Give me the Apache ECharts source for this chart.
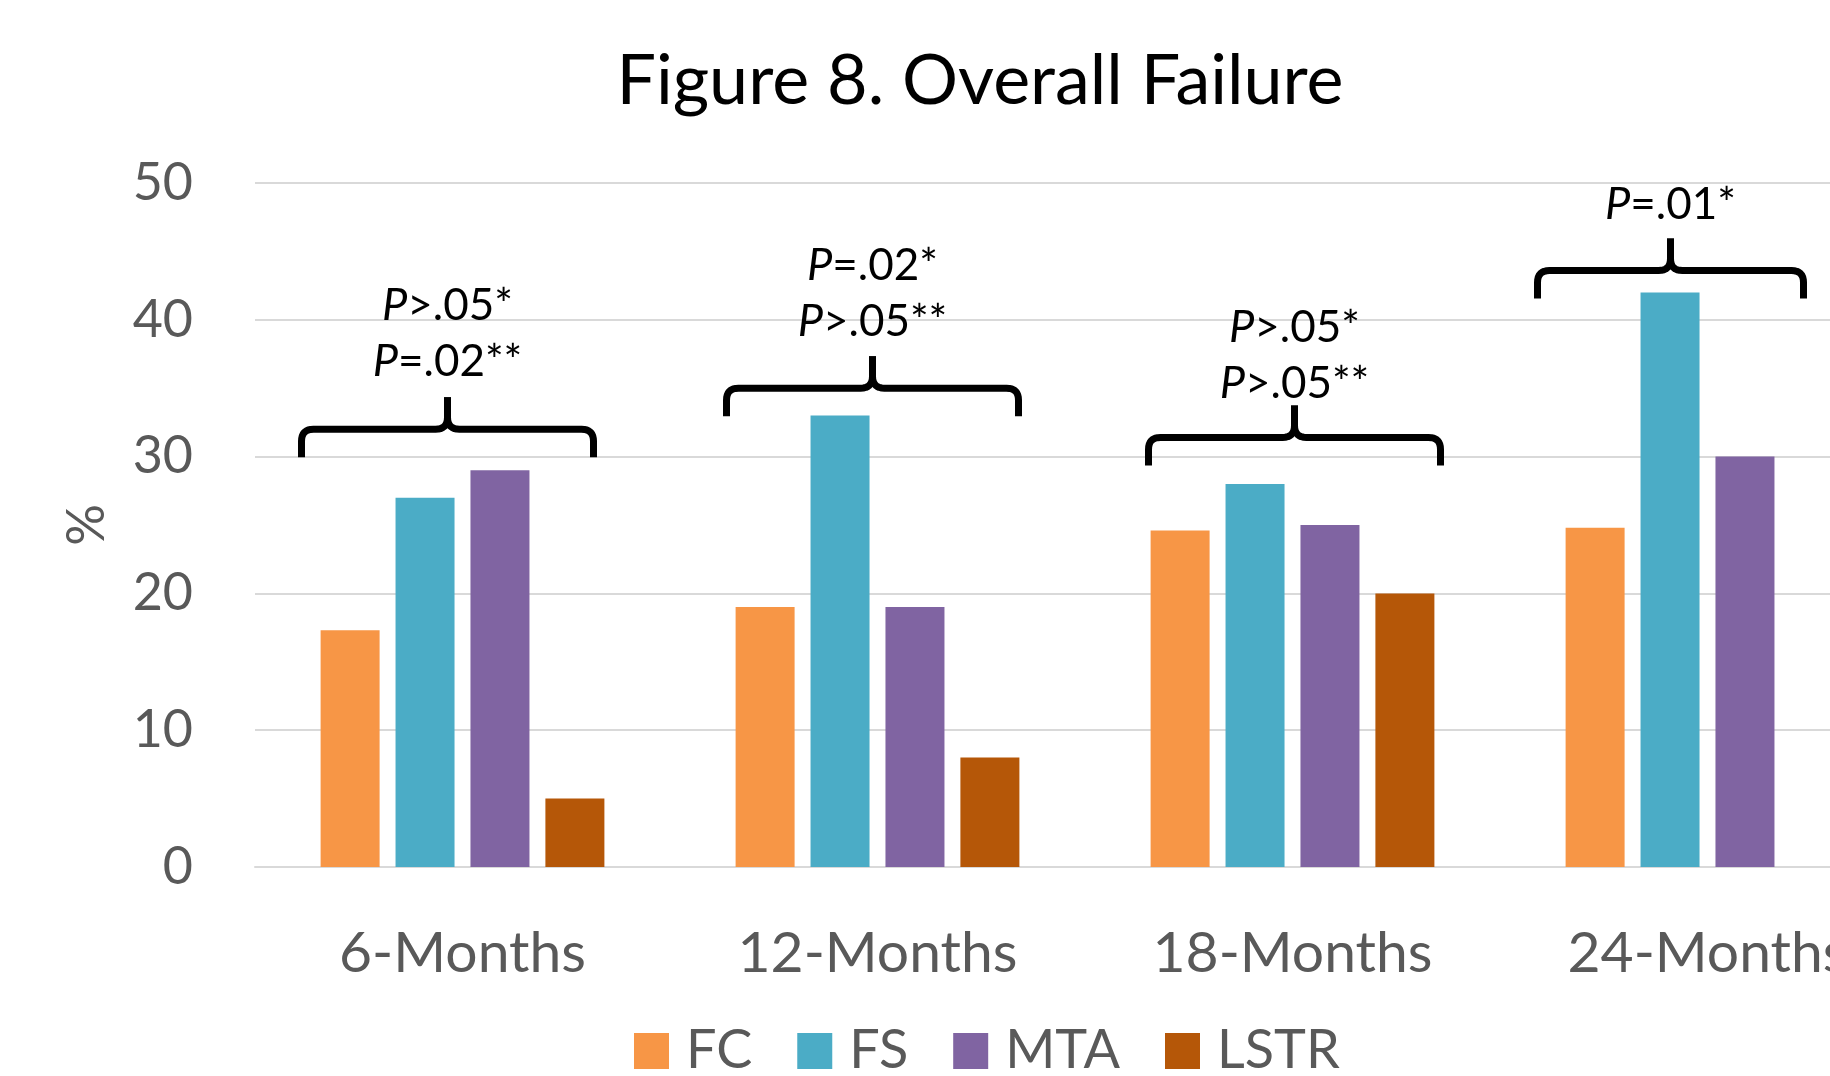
<!DOCTYPE html>
<html>
<head>
<meta charset="utf-8">
<title>Figure 8. Overall Failure</title>
<script src="https://cdn.jsdelivr.net/npm/echarts@6/dist/echarts.min.js"></script>
<style>
  html, body { margin: 0; padding: 0; background: #fff; overflow: hidden; }
  #main { width: 1960px; height: 1076px; }
</style>
</head>
<body>
<div id="main"></div>
<script>
  // 数据
  const categories = ['6-Months', '12-Months', '18-Months', '24-Months']
  const fc = [17.3, 19, 24.6, 24.8]
  const fs = [27, 33, 28, 42]
  const mta = [29, 19, 25, 30]
  const lstr = [5, 8, 20, null]
  const yTicks = [0, 10, 20, 30, 40, 50]

  // p 值注释（括号高度、文字中心，单位为 y 轴数值）
  const pLines = [
    ['{i|P}>.05*', '{i|P}=.02**'],
    ['{i|P}=.02*', '{i|P}>.05**'],
    ['{i|P}>.05*', '{i|P}>.05**'],
    ['{i|P}=.01*']
  ]
  const braceLevel = [32, 35, 31.4, 43.6]
  const textLevel = [39.0, 41.9, 37.4, 48.4]

  // 括号样式（像素）
  const braceStyle = [
    { dx: -15, half: 146 },
    { dx: -5, half: 146 },
    { dx: 2, half: 146 },
    { dx: -37, half: 133 }
  ]

  const font = 'Lato, "Open Sans", sans-serif'
  const grey = '#595959'

  const myChart = echarts.init(document.getElementById('main'))

  const option = {
    animation: false,
    title: {
      text: 'Figure 8. Overall Failure',
      left: 'center',
      top: 41,
      textStyle: { fontFamily: font, fontSize: 70, fontWeight: 'normal', color: '#000' }
    },
    legend: {
      data: ['FC', 'FS', 'MTA', 'LSTR'],
      left: 629,
      top: 1019,
      itemWidth: 35,
      itemHeight: 36,
      itemGap: 45,
      icon: 'rect',
      textStyle: { fontFamily: font, fontSize: 54, color: grey, padding: [0, 0, 0, 12] }
    },
    grid: {
      left: 255,
      right: 45,
      top: 183,
      bottom: 209
    },
    xAxis: {
      type: 'category',
      data: categories,
      axisTick: { show: false },
      axisLine: { lineStyle: { color: '#d9d9d9', width: 2 } },
      axisLabel: { fontFamily: font, fontSize: 57, color: grey, margin: 58 }
    },
    yAxis: {
      type: 'value',
      min: yTicks[0],
      max: yTicks[yTicks.length - 1],
      interval: yTicks[1] - yTicks[0],
      name: '%',
      nameLocation: 'middle',
      nameGap: 142,
      nameTextStyle: { fontFamily: font, fontSize: 52, color: grey },
      axisLine: { show: false },
      axisTick: { show: false },
      axisLabel: { fontFamily: font, fontSize: 52, color: grey, margin: 62 },
      splitLine: { lineStyle: { color: '#d9d9d9', width: 2 } }
    },
    series: [
      { name: 'FC', type: 'bar', data: fc, barWidth: 59, barGap: '27%', itemStyle: { color: '#F79646' } },
      { name: 'FS', type: 'bar', data: fs, barWidth: 59, barGap: '27%', itemStyle: { color: '#4BACC6' } },
      { name: 'MTA', type: 'bar', data: mta, barWidth: 59, barGap: '27%', itemStyle: { color: '#8064A2' } },
      { name: 'LSTR', type: 'bar', data: lstr, barWidth: 59, barGap: '27%', itemStyle: { color: '#B55708' } }
    ]
  }

  myChart.setOption(option)

  // 二次曲线取点
  function quad(p0, p1, p2, out) {
    for (let k = 1; k <= 8; k++) {
      const t = k / 8
      const a = (1 - t) * (1 - t)
      const b = 2 * (1 - t) * t
      const c = t * t
      out.push([a * p0[0] + b * p1[0] + c * p2[0], a * p0[1] + b * p1[1] + c * p2[1]])
    }
  }

  // 半个括号：从外端到尖
  function halfBrace(xe, xc, y) {
    const d = 28
    const r = 32
    const c = 12
    const s = xe < xc ? 1 : -1
    const pts = [[xe, y + d], [xe, y + c]]
    quad([xe, y + c], [xe, y], [xe + s * c, y], pts)
    pts.push([xc - s * c, y])
    quad([xc - s * c, y], [xc, y], [xc, y - c], pts)
    pts.push([xc, y - r])
    return pts
  }

  const graphics = []
  categories.forEach((cat, i) => {
    const cx = myChart.convertToPixel({ xAxisIndex: 0 }, cat) + braceStyle[i].dx
    const y = myChart.convertToPixel({ yAxisIndex: 0 }, braceLevel[i])
    const ty = myChart.convertToPixel({ yAxisIndex: 0 }, textLevel[i])
    const half = braceStyle[i].half
    const lineStyle = { stroke: '#000', lineWidth: 7, fill: null, lineJoin: 'round' }
    graphics.push({
      type: 'polyline',
      shape: { points: halfBrace(cx - half, cx, y) },
      style: lineStyle
    })
    graphics.push({
      type: 'polyline',
      shape: { points: halfBrace(cx + half, cx, y) },
      style: lineStyle
    })
    graphics.push({
      type: 'text',
      x: cx,
      y: ty,
      style: {
        text: pLines[i].join('\n'),
        align: 'center',
        verticalAlign: 'middle',
        fill: '#000',
        fontFamily: font,
        fontSize: 44,
        lineHeight: 56,
        rich: {
          i: { fontFamily: font, fontSize: 45, fontStyle: 'italic', lineHeight: 56 }
        }
      }
    })
  })
  myChart.setOption({ graphic: graphics })
</script>
</body>
</html>
